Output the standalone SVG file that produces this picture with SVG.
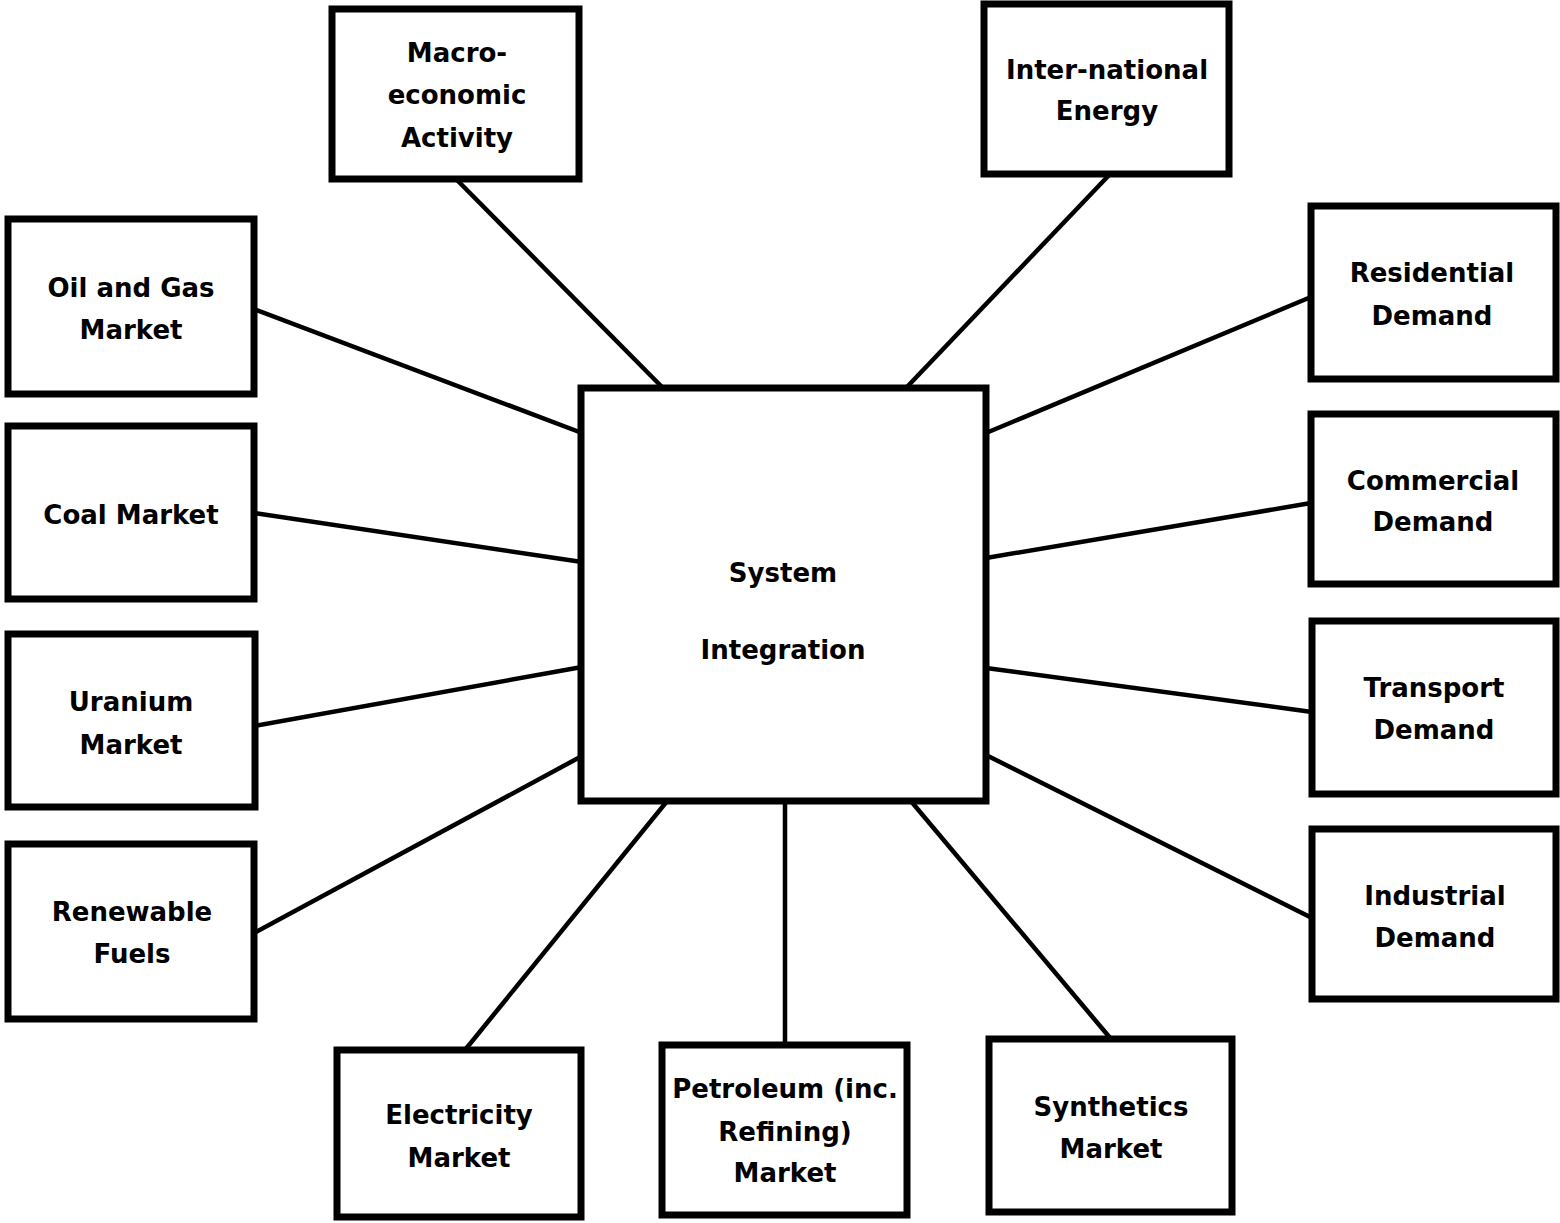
<svg xmlns="http://www.w3.org/2000/svg" width="1560" height="1223" viewBox="0 0 1560 1223">
<style>
.box{fill:#fff;stroke:#000;stroke-width:7}
.ln{stroke:#000;stroke-width:4.5;fill:none}
text{font-family:"DejaVu Sans","Liberation Sans",sans-serif;font-weight:bold;font-size:26px;fill:#000;text-anchor:middle}
</style>
<rect width="1560" height="1223" fill="#fff"/>
<g id="connectors">
<line class="ln" x1="457" y1="180" x2="663" y2="388"/>
<line class="ln" x1="1112" y1="172" x2="906" y2="388"/>
<line class="ln" x1="254" y1="309" x2="582" y2="433"/>
<line class="ln" x1="254" y1="513" x2="582" y2="562"/>
<line class="ln" x1="254" y1="726" x2="582" y2="667"/>
<line class="ln" x1="254" y1="933" x2="582" y2="756"/>
<line class="ln" x1="465" y1="1050" x2="668" y2="800"/>
<line class="ln" x1="785" y1="1045" x2="785" y2="800"/>
<line class="ln" x1="1111" y1="1039" x2="910" y2="800"/>
<line class="ln" x1="1311" y1="297" x2="986" y2="433"/>
<line class="ln" x1="1311" y1="503" x2="986" y2="558"/>
<line class="ln" x1="1312" y1="712" x2="986" y2="668"/>
<line class="ln" x1="1312" y1="918" x2="986" y2="755"/>
</g>
<g id="system-integration">
<rect class="box" x="581" y="388" width="405" height="413"/>
<text x="783" y="582">System</text>
<text x="783" y="659">Integration</text>
</g>
<g id="macro">
<rect class="box" x="332" y="9" width="247" height="170"/>
<text x="457" y="62">Macro-</text>
<text x="457" y="104">economic</text>
<text x="457" y="147">Activity</text>
</g>
<g id="international">
<rect class="box" x="984" y="4" width="245" height="170"/>
<text x="1107" y="79">Inter-national</text>
<text x="1107" y="120">Energy</text>
</g>
<g id="oilgas">
<rect class="box" x="8" y="219" width="246" height="175"/>
<text x="131" y="297">Oil and Gas</text>
<text x="131" y="339">Market</text>
</g>
<g id="coal">
<rect class="box" x="8" y="426" width="246" height="173"/>
<text x="131" y="524">Coal Market</text>
</g>
<g id="uranium">
<rect class="box" x="8" y="634" width="247" height="173"/>
<text x="131" y="711">Uranium</text>
<text x="131" y="754">Market</text>
</g>
<g id="renewable">
<rect class="box" x="8" y="844" width="246" height="175"/>
<text x="132" y="921">Renewable</text>
<text x="132" y="963">Fuels</text>
</g>
<g id="residential">
<rect class="box" x="1311" y="206" width="245" height="173"/>
<text x="1432" y="282">Residential</text>
<text x="1432" y="325">Demand</text>
</g>
<g id="commercial">
<rect class="box" x="1311" y="414" width="245" height="170"/>
<text x="1433" y="490">Commercial</text>
<text x="1433" y="531">Demand</text>
</g>
<g id="transport">
<rect class="box" x="1312" y="621" width="244" height="173"/>
<text x="1434" y="697">Transport</text>
<text x="1434" y="739">Demand</text>
</g>
<g id="industrial">
<rect class="box" x="1312" y="829" width="244" height="170"/>
<text x="1435" y="905">Industrial</text>
<text x="1435" y="947">Demand</text>
</g>
<g id="electricity">
<rect class="box" x="337" y="1050" width="244" height="167"/>
<text x="459" y="1124">Electricity</text>
<text x="459" y="1167">Market</text>
</g>
<g id="petroleum">
<rect class="box" x="662" y="1045" width="245" height="170"/>
<text x="785" y="1098">Petroleum (inc.</text>
<text x="785" y="1141">Refining)</text>
<text x="785" y="1182">Market</text>
</g>
<g id="synthetics">
<rect class="box" x="989" y="1039" width="243" height="173"/>
<text x="1111" y="1116">Synthetics</text>
<text x="1111" y="1158">Market</text>
</g>
</svg>
